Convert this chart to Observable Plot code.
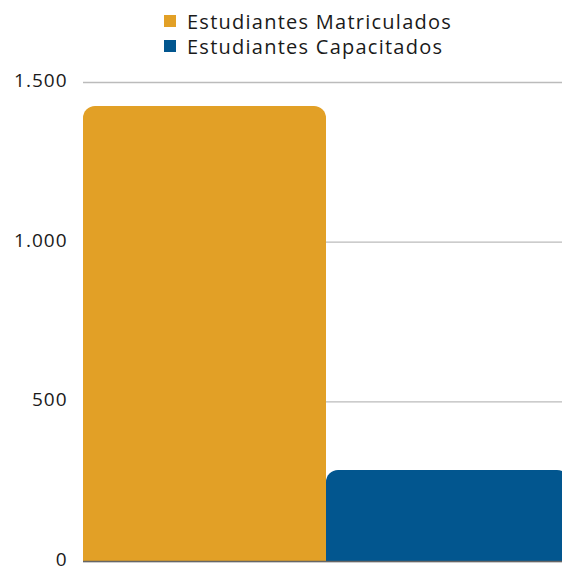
<!DOCTYPE html>
<html><head><meta charset="utf-8">
<script src="https://cdn.jsdelivr.net/npm/d3@7"></script>
<script src="https://cdn.jsdelivr.net/npm/@observablehq/plot@0.6"></script>
<style>
html,body{margin:0;background:#fff;font-family:"Open Sans",sans-serif;overflow:hidden;}
#legend{height:60px;position:relative;}
.row{position:absolute;left:164px;display:flex;align-items:center;font-size:20px;letter-spacing:1.25px;color:#1a1a1a;height:24px;}
.sw{width:12px;height:12px;margin-right:11px;}
svg{display:block;}
</style></head><body>
<div id="legend"></div>
<div id="chart"></div>
<script>
const categories = ["Estudiantes Matriculados", "Estudiantes Capacitados"];
const values = [1425, 285];
const colors = ["#E2A026", "#02568F"];
const yTicks = [0, 500, 1000, 1500];

const data = categories.map((c, i) => ({cat: c, value: values[i]}));

const leg = document.getElementById("legend");
categories.forEach((c, i) => {
  const r = document.createElement("div");
  r.className = "row";
  r.style.top = (9 + i * 25) + "px";
  r.innerHTML = `<span class="sw" style="background:${colors[i]}"></span><span>${c}</span>`;
  leg.appendChild(r);
});

const fmt = d3.formatLocale({decimal: ",", thousands: ".", grouping: [3], currency: ["", ""]}).format(",d");

const chart = Plot.plot({
  width: 562,
  height: 507,
  marginTop: 22,
  marginBottom: 6,
  marginLeft: 83,
  marginRight: 0,
  style: {fontFamily: "Open Sans, sans-serif", fontSize: "19px", color: "#1a1a1a", letterSpacing: "1px", overflow: "visible"},
  x: {domain: categories, padding: 0, axis: null, range: [83, 569]},
  y: {domain: [0, 1500], ticks: yTicks, tickFormat: fmt, label: null},
  color: {domain: categories, range: colors},
  marks: [
    Plot.gridY(yTicks, {stroke: "#bbb", strokeOpacity: 1, strokeWidth: 1.3}),
    Plot.axisY(yTicks, {tickSize: 0, tickPadding: 16, tickFormat: fmt, label: null, fontSize: 19, dy: -1.5}),
    Plot.barY(data, {x: "cat", y: "value", fill: "cat", ry1: 12, rx: 12, clip: true}),
    Plot.ruleY([0], {stroke: "#666", strokeWidth: 1.5})
  ]
});
document.getElementById("chart").appendChild(chart);
</script>
</body></html>
